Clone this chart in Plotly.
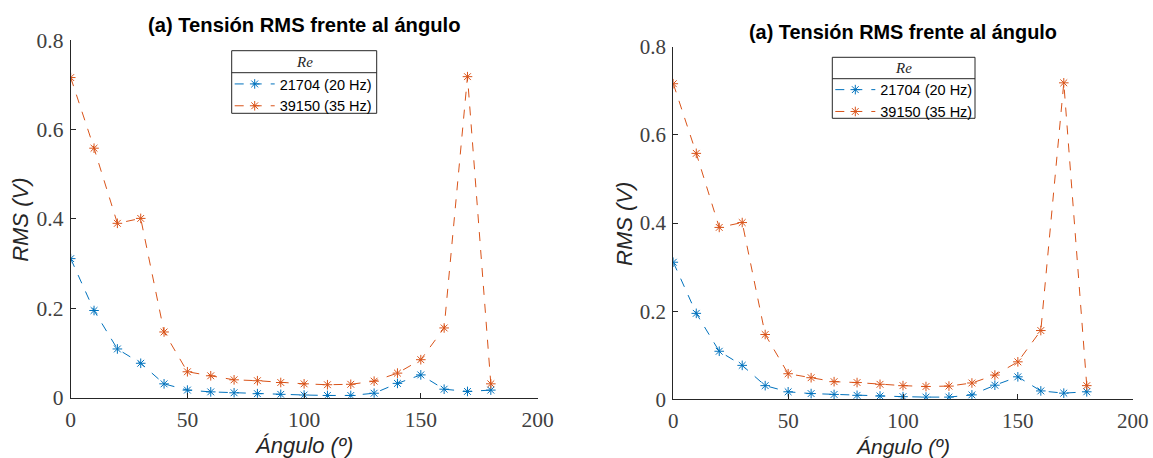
import plotly.graph_objects as go

angles = [0, 10, 20, 30, 40, 50, 60, 70, 80, 90, 100, 110, 120, 130, 140, 150, 160, 170, 180]
rms_20hz = [0.311, 0.195, 0.109, 0.077, 0.031, 0.017, 0.013, 0.011, 0.009, 0.0075, 0.006, 0.005, 0.005,
            0.010, 0.032, 0.051, 0.019, 0.014, 0.017]
rms_35hz = [0.716, 0.558, 0.390, 0.401, 0.147, 0.058, 0.049, 0.040, 0.038, 0.034, 0.031, 0.029, 0.030,
            0.037, 0.055, 0.085, 0.156, 0.718, 0.031]
series_names = ["21704 (20 Hz)", "39150 (35 Hz)"]
series_colors = ["#0072BD", "#D95319"]
title_text = "(a) Tensión RMS frente al ángulo"
xlabel = "Ángulo (º)"
ylabel = "RMS (V)"
legend_title = "Re"
x_ticks = [0, 50, 100, 150, 200]
y_ticks = [0, 0.2, 0.4, 0.6, 0.8]

W, H = 1153, 458
AX = "#262626"

def px(x):
    return x / W

def py(y):
    return 1 - y / H

panels = [
    dict(x0=70.7, x1=537.5, y0=40.0, y1=397.7, xa="x", ya="y", leg="legend",
         title_y=25, title_size=20.2, tick_size=21.5, ylab_x=21, xlab_y=445.5, xlab_size=22,
         box=(231.7, 376.7, 50.7, 113.3), sep_y=72.7, re_y=61.7, entry_y=85),
    dict(x0=673.3, x1=1132.7, y0=46.7, y1=399.3, xa="x2", ya="y2", leg="legend2",
         title_y=32.3, title_size=19.9, tick_size=21, ylab_x=624, xlab_y=446, xlab_size=21,
         box=(832.3, 975.0, 57.3, 118.3), sep_y=78.7, re_y=67.7, entry_y=90.7),
]

fig = go.Figure()
layout = dict(width=W, height=H, margin=dict(l=0, r=0, t=0, b=0, autoexpand=False),
              paper_bgcolor="white", plot_bgcolor="white", showlegend=True)
annotations = []
shapes = []

for i, p in enumerate(panels):
    for vals, name, col in zip([rms_20hz, rms_35hz], series_names, series_colors):
        fig.add_trace(go.Scatter(
            x=angles, y=vals, name=name, mode="lines+markers",
            xaxis=p["xa"], yaxis=p["ya"], legend=p["leg"],
            line=dict(color=col, width=1, dash="dash"),
            marker=dict(symbol="asterisk-open", size=8, color=col, line=dict(color=col, width=1)),
        ))
    xk = "xaxis" if i == 0 else "xaxis2"
    yk = "yaxis" if i == 0 else "yaxis2"
    common = dict(showline=True, linecolor=AX, linewidth=1, mirror=False,
                  ticks="inside", ticklen=5, tickcolor=AX, showgrid=False, zeroline=False,
                  automargin=False, ticklabelstandoff=2,
                  tickfont=dict(family="Liberation Serif", size=p["tick_size"], color="#404040"))
    layout[xk] = dict(domain=[px(p["x0"]), px(p["x1"])], range=[0, 200], tickvals=x_ticks,
                      anchor=p["ya"], **common)
    layout[yk] = dict(domain=[py(p["y1"]), py(p["y0"])], range=[0, 0.8], tickvals=y_ticks,
                      anchor=p["xa"], **common)
    cx = (p["x0"] + p["x1"]) / 2
    cy = (p["y0"] + p["y1"]) / 2
    annotations.append(dict(text="<b>" + title_text + "</b>", x=px(cx), y=py(p["title_y"]),
                            xref="paper", yref="paper", showarrow=False, xanchor="center", yanchor="middle",
                            font=dict(family="Liberation Sans", size=p["title_size"], color="black")))
    annotations.append(dict(text="<i>" + xlabel + "</i>", x=px(cx), y=py(p["xlab_y"]),
                            xref="paper", yref="paper", showarrow=False, xanchor="center", yanchor="middle",
                            font=dict(family="Liberation Sans", size=p["xlab_size"], color=AX)))
    annotations.append(dict(text="<i>" + ylabel + "</i>", x=px(p["ylab_x"]), y=py(cy + 1),
                            xref="paper", yref="paper", showarrow=False, xanchor="center", yanchor="middle",
                            textangle=-90,
                            font=dict(family="Liberation Sans", size=22, color=AX)))
    bx0, bx1, by0, by1 = p["box"]
    annotations.append(dict(text="<i>" + legend_title + "</i>", x=px((bx0 + bx1) / 2), y=py(p["re_y"]),
                            xref="paper", yref="paper", showarrow=False, xanchor="center", yanchor="middle",
                            font=dict(family="Liberation Serif", size=15, color=AX)))
    shapes.append(dict(type="rect", xref="paper", yref="paper",
                       x0=px(bx0), x1=px(bx1), y0=py(by0), y1=py(by1),
                       line=dict(color=AX, width=1), fillcolor="white", layer="below"))
    shapes.append(dict(type="line", xref="paper", yref="paper",
                       x0=px(bx0), x1=px(bx1), y0=py(p["sep_y"]), y1=py(p["sep_y"]),
                       line=dict(color=AX, width=1)))
    layout[p["leg"]] = dict(x=px(bx0 - 2), y=py(p["entry_y"] - 17), xanchor="left", yanchor="top",
                            borderwidth=0, bgcolor="rgba(0,0,0,0)",
                            font=dict(family="Liberation Sans", size=14.5, color="black"),
                            itemwidth=40, tracegroupgap=0)

layout["annotations"] = annotations
layout["shapes"] = shapes
fig.update_layout(**layout)
fig.write_html("out.html", config={"displayModeBar": False},
               post_script="document.body.style.margin='0px';")
